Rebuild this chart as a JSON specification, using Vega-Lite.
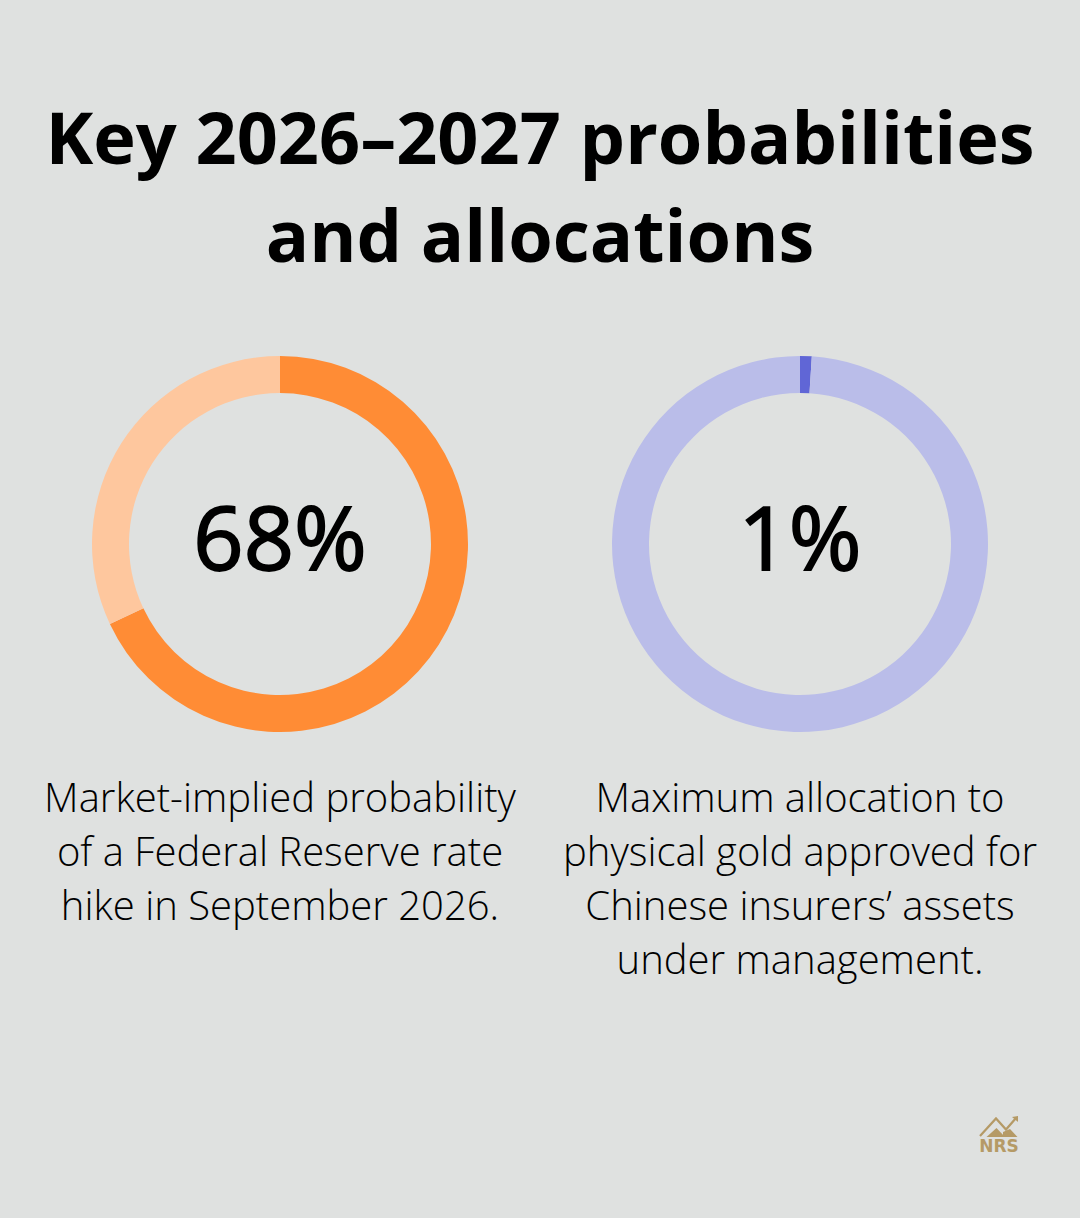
{
  "$schema": "https://vega.github.io/schema/vega-lite/v6.json",
  "background": "#dfe1e0",
  "padding": {"left": 20, "right": 20, "top": 106, "bottom": 0},
  "title": {
    "text": ["Key 2026–2027 probabilities", "and allocations"],
    "anchor": "middle",
    "font": "Open Sans",
    "fontSize": 72,
    "fontWeight": 700,
    "color": "#000000",
    "lineHeight": 98,
    "offset": 63
  },
  "datasets": {
    "hike": [
      {"part": "value", "share": 68, "step": 1, "label": "68%"},
      {"part": "rest", "share": 32, "step": 2, "label": "68%"}
    ],
    "gold": [
      {"part": "value", "share": 1, "step": 1, "label": "1%"},
      {"part": "rest", "share": 99, "step": 2, "label": "1%"}
    ],
    "logoLine": [
      {"x": 980, "y": 1136},
      {"x": 996, "y": 1118.5},
      {"x": 1006, "y": 1129.5},
      {"x": 1016, "y": 1118}
    ],
    "logoPeaks": [
      {"peak": "a", "x": 986.5, "top": 1137, "base": 1137},
      {"peak": "a", "x": 996.5, "top": 1128, "base": 1137},
      {"peak": "a", "x": 1005, "top": 1137, "base": 1137},
      {"peak": "b", "x": 1003, "top": 1132, "base": 1137},
      {"peak": "b", "x": 1010, "top": 1129, "base": 1137},
      {"peak": "b", "x": 1017.5, "top": 1137, "base": 1137}
    ],
    "logoHead": [
      {"x": 1012, "top": 1117, "base": 1117},
      {"x": 1018, "top": 1116, "base": 1122}
    ],
    "logoText": [
      {"x": 999, "y": 1146.5, "label": "NRS"}
    ]
  },
  "spacing": 128,
  "vconcat": [
    {
      "spacing": 0,
      "resolve": {"scale": {"color": "independent"}},
      "hconcat": [
        {
          "width": 520,
          "height": 408,
          "view": {"stroke": null},
          "title": {
            "text": ["Market-implied probability", "of a Federal Reserve rate", "hike in September 2026."],
            "orient": "bottom",
            "anchor": "middle",
            "font": "Open Sans",
            "fontSize": 40,
            "fontWeight": 300,
            "color": "#000000",
            "lineHeight": 54,
            "offset": 32
          },
          "data": {"name": "hike"},
          "layer": [
            {
              "mark": {"type": "arc", "outerRadius": 188, "innerRadius": 151},
              "encoding": {
                "theta": {"field": "share", "type": "quantitative", "stack": true},
                "order": {"field": "step", "type": "ordinal"},
                "color": {
                  "field": "part",
                  "type": "nominal",
                  "legend": null,
                  "scale": {"domain": ["value", "rest"], "range": ["#ff8c35", "#fec79e"]}
                }
              }
            },
            {
              "transform": [{"filter": "datum.step == 1"}],
              "mark": {"type": "text", "font": "Open Sans", "fontSize": 88, "fontWeight": 500, "color": "#000000", "stroke": "#000000", "strokeWidth": 1.8, "dy": 0},
              "encoding": {"text": {"field": "label", "type": "nominal"}}
            }
          ]
        },
        {
          "width": 520,
          "height": 408,
          "view": {"stroke": null},
          "title": {
            "text": ["Maximum allocation to", "physical gold approved for", "Chinese insurers’ assets", "under management."],
            "orient": "bottom",
            "anchor": "middle",
            "font": "Open Sans",
            "fontSize": 40,
            "fontWeight": 300,
            "color": "#000000",
            "lineHeight": 54,
            "offset": 32
          },
          "data": {"name": "gold"},
          "layer": [
            {
              "mark": {"type": "arc", "outerRadius": 188, "innerRadius": 151},
              "encoding": {
                "theta": {"field": "share", "type": "quantitative", "stack": true},
                "order": {"field": "step", "type": "ordinal"},
                "color": {
                  "field": "part",
                  "type": "nominal",
                  "legend": null,
                  "scale": {"domain": ["value", "rest"], "range": ["#6066d6", "#babde9"]}
                }
              }
            },
            {
              "transform": [{"filter": "datum.step == 1"}],
              "mark": {"type": "text", "font": "Open Sans", "fontSize": 88, "fontWeight": 500, "color": "#000000", "stroke": "#000000", "strokeWidth": 1.8, "dy": 0},
              "encoding": {"text": {"field": "label", "type": "nominal"}}
            }
          ]
        }
      ]
    },
    {
      "width": 1040,
      "height": 108,
      "view": {"stroke": null},
      "encoding": {
        "x": {"field": "x", "type": "quantitative", "axis": null, "scale": {"domain": [20, 1060], "nice": false, "zero": false}}
      },
      "layer": [
        {
          "data": {"name": "logoPeaks"},
          "mark": {"type": "area", "color": "#b59a66"},
          "encoding": {
            "detail": {"field": "peak", "type": "nominal"},
            "y": {"field": "top", "type": "quantitative", "axis": null, "scale": {"domain": [1218, 1110], "nice": false, "zero": false}},
            "y2": {"field": "base"}
          }
        },
        {
          "data": {"name": "logoHead"},
          "mark": {"type": "area", "color": "#b59a66"},
          "encoding": {
            "y": {"field": "top", "type": "quantitative", "axis": null, "scale": {"domain": [1218, 1110], "nice": false, "zero": false}},
            "y2": {"field": "base"}
          }
        },
        {
          "data": {"name": "logoLine"},
          "mark": {"type": "line", "color": "#b59a66", "strokeWidth": 2.2},
          "encoding": {
            "order": {"field": "x", "type": "quantitative"},
            "y": {"field": "y", "type": "quantitative", "axis": null, "scale": {"domain": [1218, 1110], "nice": false, "zero": false}}
          }
        },
        {
          "data": {"name": "logoText"},
          "mark": {"type": "text", "font": "DejaVu Sans", "fontWeight": 700, "fontSize": 17, "color": "#b59a66"},
          "encoding": {
            "y": {"field": "y", "type": "quantitative", "axis": null, "scale": {"domain": [1218, 1110], "nice": false, "zero": false}},
            "text": {"field": "label", "type": "nominal"}
          }
        }
      ]
    }
  ]
}
